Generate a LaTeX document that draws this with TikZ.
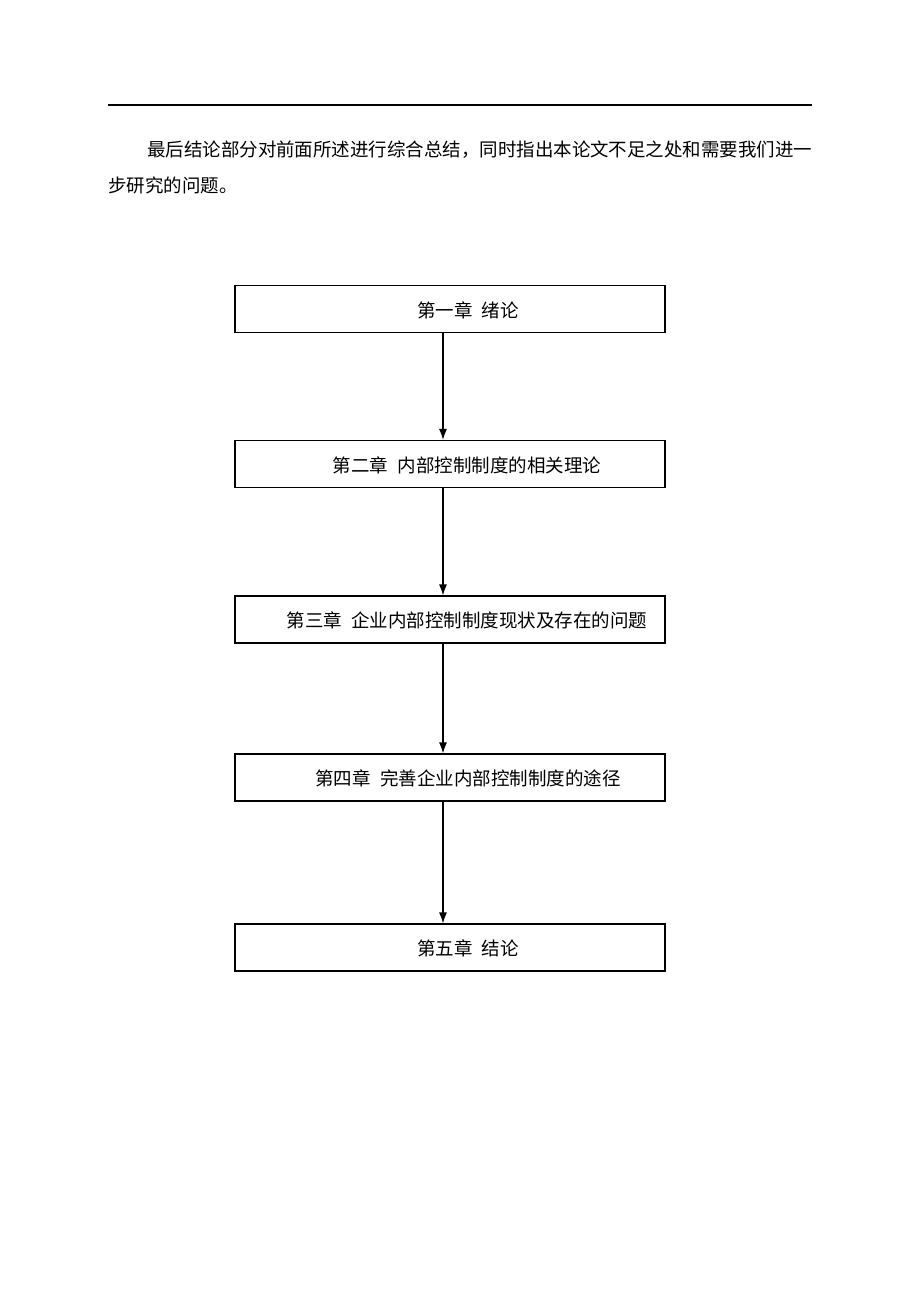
\documentclass[tikz,border=0pt]{standalone}
\usepackage{fontspec}
\newfontfamily\cjk{Noto Sans CJK SC}
\usetikzlibrary{arrows.meta}
\begin{document}
\begin{tikzpicture}[x=1pt,y=-1pt,
  chapbox/.style={draw=black,line width=1.2pt,minimum width=430pt,minimum height=47pt,inner sep=0pt},
  chaptext/.style={font=\cjk\fontsize{18.5}{20}\selectfont,inner sep=0pt},
  flow/.style={line width=1.2pt,-{Latex[length=11pt,width=8pt]}},
  para/.style={font=\cjk\fontsize{18.47}{22}\selectfont,inner sep=0pt,anchor=west}]
\useasboundingbox (0,0) rectangle (920,1302);
\fill[white] (0,0) rectangle (920,1302);
\coordinate (rl) at (108,105);
\coordinate (rr) at (812,105);
\draw[line width=1.2pt] (rl) -- (rr);
\node[para] (p1) at (147,150) {最后结论部分对前面所述进行综合总结，同时指出本论文不足之处和需要我们进一};
\node[para] (p2) at (108,185) {步研究的问题。};
\node[chapbox] (b1) at (450,309) {};
\node[chapbox] (b2) at (450,464) {};
\node[chapbox] (b3) at (450,619.5) {};
\node[chapbox] (b4) at (450,777.5) {};
\node[chapbox] (b5) at (450,947.5) {};
\node[chaptext] (t1) at (468,310) {第一章\hspace{0.5em}绪论};
\node[chaptext] (t2) at (467,465) {第二章\hspace{0.5em}内部控制制度的相关理论};
\node[chaptext] (t3) at (467,620) {第三章\hspace{0.5em}企业内部控制制度现状及存在的问题};
\node[chaptext] (t4) at (468,778) {第四章\hspace{0.5em}完善企业内部控制制度的途径};
\node[chaptext] (t5) at (468,948) {第五章\hspace{0.5em}结论};
\draw[flow] (b1.south -| 443,0) -- (b2.north -| 443,0);
\draw[flow] (b2.south -| 443,0) -- (b3.north -| 443,0);
\draw[flow] (b3.south -| 443,0) -- (b4.north -| 443,0);
\draw[flow] (b4.south -| 443,0) -- (b5.north -| 443,0);
\end{tikzpicture}
\end{document}
